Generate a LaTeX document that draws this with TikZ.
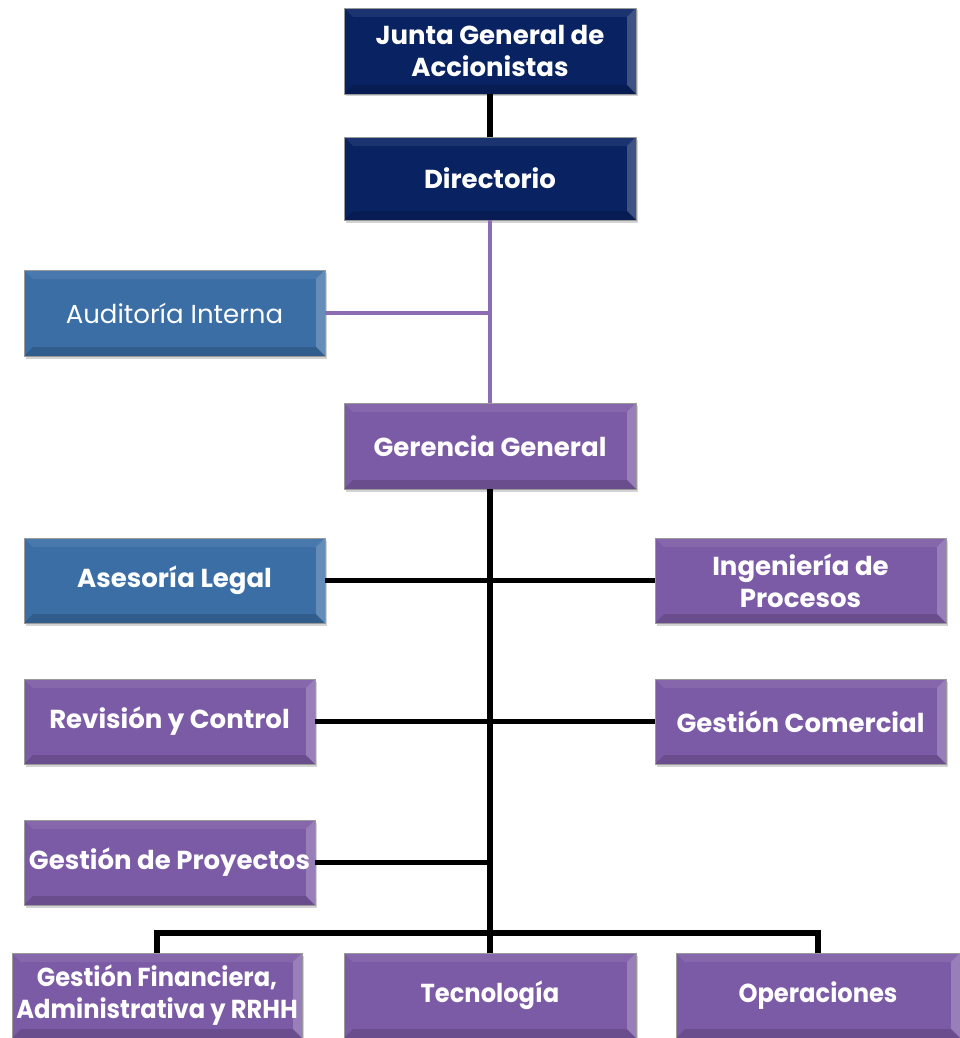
\documentclass[tikz,border=0pt]{standalone}
\usepackage{fontspec}
\usepackage{graphicx}
\setmainfont{Poppins}
\usetikzlibrary{shadows,calc}
\definecolor{navy}{RGB}{8,34,98}
\definecolor{steel}{RGB}{58,110,165}
\definecolor{plum}{RGB}{124,91,166}
\definecolor{plumline}{RGB}{140,108,178}
\tikzset{
  unit/.style={draw=black!40,line width=0.6pt,text=white,align=center,
    font=\fontsize{26}{32}\selectfont\bfseries,inner sep=0pt,
    drop shadow={shadow xshift=1.5pt,shadow yshift=-2.5pt,opacity=0.35},
    path picture={
      \fill[white,opacity=0.22] (path picture bounding box.north east) -- ++(-9,9)
        -- ($(path picture bounding box.south east)+(-9,-9)$) -- (path picture bounding box.south east) -- cycle;
      \fill[black,opacity=0.15] (path picture bounding box.south west) -- ++(9,-9)
        -- ($(path picture bounding box.south east)+(-9,-9)$) -- (path picture bounding box.south east) -- cycle;
      \fill[white,opacity=0.08] (path picture bounding box.north west) -- ++(9,9)
        -- ($(path picture bounding box.north east)+(-9,9)$) -- (path picture bounding box.north east) -- cycle;}},
  boss/.style={unit,fill=navy,minimum width=292,minimum height=86},
  staff/.style={unit,fill=steel,minimum width=301,minimum height=86},
  dept/.style={unit,fill=plum,minimum width=291,minimum height=85},
  link/.style={line width=5.5pt},
  linkp/.style={line width=4.5pt,plumline}
}
\newcommand{\narrow}[1]{\scalebox{0.93}[1]{#1}}
\begin{document}
\begin{tikzpicture}[x=1pt,y=-1pt]
\useasboundingbox (0,0) rectangle (960,1038);

% top level
\node (junta) [boss] at (490,51) {Junta General de\\Accionistas};
\node (dir) [boss,minimum height=83] at (490,178.5) {Directorio};
\node (audit) [staff,font=\fontsize{26}{32}\selectfont] at (174.5,313) {Auditoría Interna};
\node (ger) [dept,minimum width=292,minimum height=86] at (490,446) {Gerencia General};

% second level
\node (legal) [staff,minimum height=85] at (174.5,580.5) {Asesoría Legal};
\node (ing) [dept] at (800.5,580.5) {Ingeniería de\\Procesos};
\node (rev) [dept] at (169.5,721.5) {Revisión y Control};
\node (com) [dept] at (800.5,721.5) {Gestión Comercial};
\node (proy) [dept] at (169.5,862.5) {Gestión de Proyectos};

% bottom row
\node (fin) [dept,minimum width=290] at (157,995.5) {\narrow{Gestión Financiera,}\\\narrow{Administrativa y RRHH}};
\node (tec) [dept,minimum width=292] at (490,995.5) {\narrow{Tecnología}};
\node (ope) [dept,minimum width=284] at (818,995.5) {\narrow{Operaciones}};

% connectors
\coordinate (busm) at (490,933);
\draw[link] (junta.south) -- (dir.north);
\draw[linkp] (dir.south) -- (ger.north);
\draw[linkp] (audit.east) -- (audit.east -| dir.south);
\draw[link] (ger.south) -- (busm) -- (tec.north);
\draw[link] (legal.east) -- (ing.west);
\draw[link] (rev.east) -- (com.west);
\draw[link] (proy.east) -- (proy.east -| ger.south);
\draw[link] (fin.north) |- (busm) -| (ope.north);
\end{tikzpicture}
\end{document}
